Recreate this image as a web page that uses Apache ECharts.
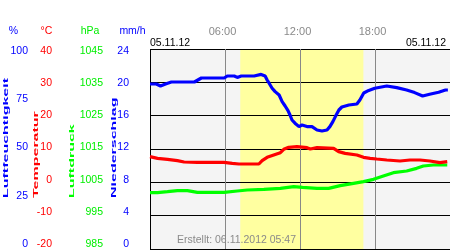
<!DOCTYPE html>
<html>
<head>
<meta charset="utf-8">
<script src="https://cdn.jsdelivr.net/npm/echarts@6/dist/echarts.min.js"></script>
<style>
html,body{margin:0;padding:0;background:#fff;}
#chart{width:450px;height:250px;}
</style>
</head>
<body>
<div id="chart"></div>
<script>
// ---- data (hours of day 05.11.12) ----
var humHours = [0.0, 0.5, 0.84, 1.24, 1.71, 3.55, 3.71, 4.11, 5.94, 6.18, 6.74, 6.98, 7.30, 8.33, 8.89, 9.21, 9.37, 9.53, 9.77, 10.01, 10.33, 10.57, 10.81, 11.04, 11.20, 11.36, 11.60, 11.92, 12.16, 12.56, 12.96, 13.36, 13.76, 14.16, 14.39, 14.63, 14.83, 15.11, 15.35, 15.91, 16.55, 16.79, 17.10, 17.50, 17.98, 18.94, 19.74, 20.53, 21.17, 21.81, 22.37, 23.09, 23.64, 23.83];
var humValues = [82.5, 82.5, 81.5, 82.5, 83.5, 83.5, 84.5, 85.5, 85.5, 86.5, 86.5, 85.8, 86.5, 86.5, 87.3, 86.5, 84.5, 82.9, 80.4, 78.7, 77.0, 73.7, 71.5, 69.2, 67.0, 64.5, 62.9, 61.2, 62.0, 61.2, 61.2, 59.5, 59.0, 59.5, 61.2, 63.7, 66.2, 69.5, 71.0, 72.0, 72.5, 74.5, 78.0, 79.3, 80.4, 81.5, 80.7, 79.5, 78.2, 76.5, 77.4, 78.4, 79.5, 79.5];

var tempHours = [0, 0.6, 1.4, 2.19, 2.73, 3.79, 5.92, 6.58, 7.11, 8.71, 8.97, 9.37, 9.90, 10.43, 10.70, 11.10, 11.76, 12.56, 12.82, 13.36, 14.69, 15.09, 15.61, 16.55, 17.08, 17.61, 18.14, 18.94, 20.0, 20.8, 21.6, 22.39, 23.19, 23.78];
var tempValues = [7.7, 7.2, 6.9, 6.5, 6.1, 6.0, 6.0, 5.7, 5.5, 5.5, 6.5, 7.5, 8.2, 8.9, 9.9, 10.5, 10.7, 10.4, 10.0, 10.4, 10.2, 9.2, 8.7, 8.2, 7.5, 7.2, 7.0, 6.7, 6.4, 6.7, 6.7, 6.4, 5.9, 6.2];

var pressHours = [0, 0.6, 1.40, 2.19, 2.99, 3.79, 5.12, 5.92, 6.98, 7.78, 9.11, 10.43, 11.50, 12.20, 13.36, 14.29, 15.22, 16.28, 17.08, 17.88, 18.67, 19.47, 20.53, 21.33, 21.87, 22.66, 23.78];
var pressValues = [1001.9, 1001.9, 1002.2, 1002.5, 1002.5, 1002.0, 1002.0, 1002.0, 1002.4, 1002.7, 1002.9, 1003.2, 1003.7, 1003.5, 1003.2, 1003.2, 1004.0, 1004.7, 1005.2, 1005.9, 1006.9, 1007.9, 1008.4, 1009.2, 1009.9, 1010.2, 1010.2];

var daylight = [7.22, 17.07];          // sunrise, sunset (hours)
var dateLabel = '05.11.12';
var createdLabel = 'Erstellt: 06.11.2012 05:47';
var unitLabels = ['%', '°C', 'hPa', 'mm/h'];
var axisTitles = ['Luftfeuchtigkeit', 'Temperatur', 'Luftdruck', 'Niederschlag'];

function pairs(xs, ys) { return xs.map(function (x, i) { return [x, ys[i]]; }); }

var FONT = 'Liberation Sans, Arial, sans-serif';
var BLUE = '#0000ff', RED = '#ff0000', GREEN = '#00ee00';

var chart = echarts.init(document.getElementById('chart'), null, {renderer: 'canvas'});

function labelAxis(min, max, interval, offset, color) {
  return {
    gridIndex: 1, type: 'value', position: 'left', offset: offset,
    min: min, max: max, interval: interval,
    axisLine: {show: false}, axisTick: {show: false}, splitLine: {show: false},
    axisLabel: {margin: 0, color: color, fontSize: 10.5, fontFamily: FONT,
      formatter: function (v) { return String(v); }}
  };
}
function hiddenAxis(min, max, interval) {
  return {
    gridIndex: 0, type: 'value', min: min, max: max, interval: interval,
    axisLine: {show: false}, axisTick: {show: false}, axisLabel: {show: false}, splitLine: {show: false}
  };
}

function rotTitle(text, x, color) {
  return {
    type: 'text', x: x, y: 198, rotation: Math.PI / 2, scaleY: 0.5, z: 100,
    style: {text: text, fill: color, font: 'bold 16px ' + FONT,
      align: 'left', verticalAlign: 'middle', textAlign: 'left', textVerticalAlign: 'middle'}
  };
}
function plainText(text, x, y, color, align) {
  return {
    type: 'text', x: x, y: y, z: 100,
    style: {text: text, fill: color, font: '10.5px ' + FONT,
      align: align, verticalAlign: 'middle', textAlign: align, textVerticalAlign: 'middle'}
  };
}

var option = {
  animation: false,
  backgroundColor: '#ffffff',
  grid: [
    {left: 150, top: 49, width: 301, height: 200, show: true, backgroundColor: '#f4f4f4', borderWidth: 0},
    {left: 150, top: 51, width: 1, height: 193, show: false}
  ],
  xAxis: [
    {
      gridIndex: 0, type: 'value', position: 'top', min: 0, max: 24, interval: 6, z: 2,
      axisLine: {show: false}, axisTick: {show: false},
      axisLabel: {
        showMinLabel: false, showMaxLabel: false, margin: 12, color: '#8a8a8a',
        fontSize: 11, fontFamily: FONT, padding: [0, 5, 0, 0],
        formatter: function (v) { return (v < 10 ? '0' : '') + v + ':00'; }
      },
      splitLine: {show: true, lineStyle: {color: ['#000000', '#888888', '#888888', '#888888', '#000000'], width: 1}}
    },
    {gridIndex: 1, type: 'value', show: false, min: 0, max: 1}
  ],
  yAxis: [
    // grid 0: data axes
    {
      gridIndex: 0, type: 'value', min: -20, max: 40, interval: 10, z: 2,
      axisLine: {show: false}, axisTick: {show: false}, axisLabel: {show: false},
      splitLine: {show: true, lineStyle: {color: '#000000', width: 1}}
    },
    hiddenAxis(0, 100, 25),
    hiddenAxis(985, 1045, 10),
    // grid 1: label axes
    labelAxis(0, 100, 25, 122, BLUE),
    labelAxis(-20, 40, 10, 98, RED),
    labelAxis(985, 1045, 10, 47, GREEN),
    labelAxis(0, 24, 4, 21, BLUE)
  ],
  series: [
    {
      type: 'line', xAxisIndex: 0, yAxisIndex: 0, z: 1, silent: true,
      data: [[0, -20]], showSymbol: false, lineStyle: {width: 0, opacity: 0},
      markArea: {
        silent: true,
        itemStyle: {color: '#ffffa0'},
        data: [[{xAxis: daylight[0]}, {xAxis: daylight[1]}]]
      }
    },
    {
      name: 'Luftdruck', type: 'line', xAxisIndex: 0, yAxisIndex: 2, z: 3,
      data: pairs(pressHours, pressValues), showSymbol: false,
      lineStyle: {color: '#00ff00', width: 3.2}
    },
    {
      name: 'Temperatur', type: 'line', xAxisIndex: 0, yAxisIndex: 0, z: 3,
      data: pairs(tempHours, tempValues), showSymbol: false,
      lineStyle: {color: RED, width: 3.2}
    },
    {
      name: 'Luftfeuchtigkeit', type: 'line', xAxisIndex: 0, yAxisIndex: 1, z: 3,
      data: pairs(humHours, humValues), showSymbol: false,
      lineStyle: {color: BLUE, width: 3.2}
    }
  ],
  graphic: {
    elements: [
      plainText(unitLabels[0], 13.5, 31, BLUE, 'center'),
      plainText(unitLabels[1], 46.5, 31, RED, 'center'),
      plainText(unitLabels[2], 90, 31, GREEN, 'center'),
      plainText(unitLabels[3], 132.5, 31, BLUE, 'center'),
      plainText(dateLabel, 150, 43.5, '#000000', 'left'),
      plainText(dateLabel, 446, 43.5, '#000000', 'right'),
      plainText(createdLabel, 296, 240, '#8a8a8a', 'right'),
      rotTitle(axisTitles[0], 5.5, BLUE),
      rotTitle(axisTitles[1], 35.3, RED),
      rotTitle(axisTitles[2], 71.7, '#00ff00'),
      rotTitle(axisTitles[3], 113.3, BLUE)
    ]
  }
};
chart.setOption(option);
</script>
</body>
</html>
